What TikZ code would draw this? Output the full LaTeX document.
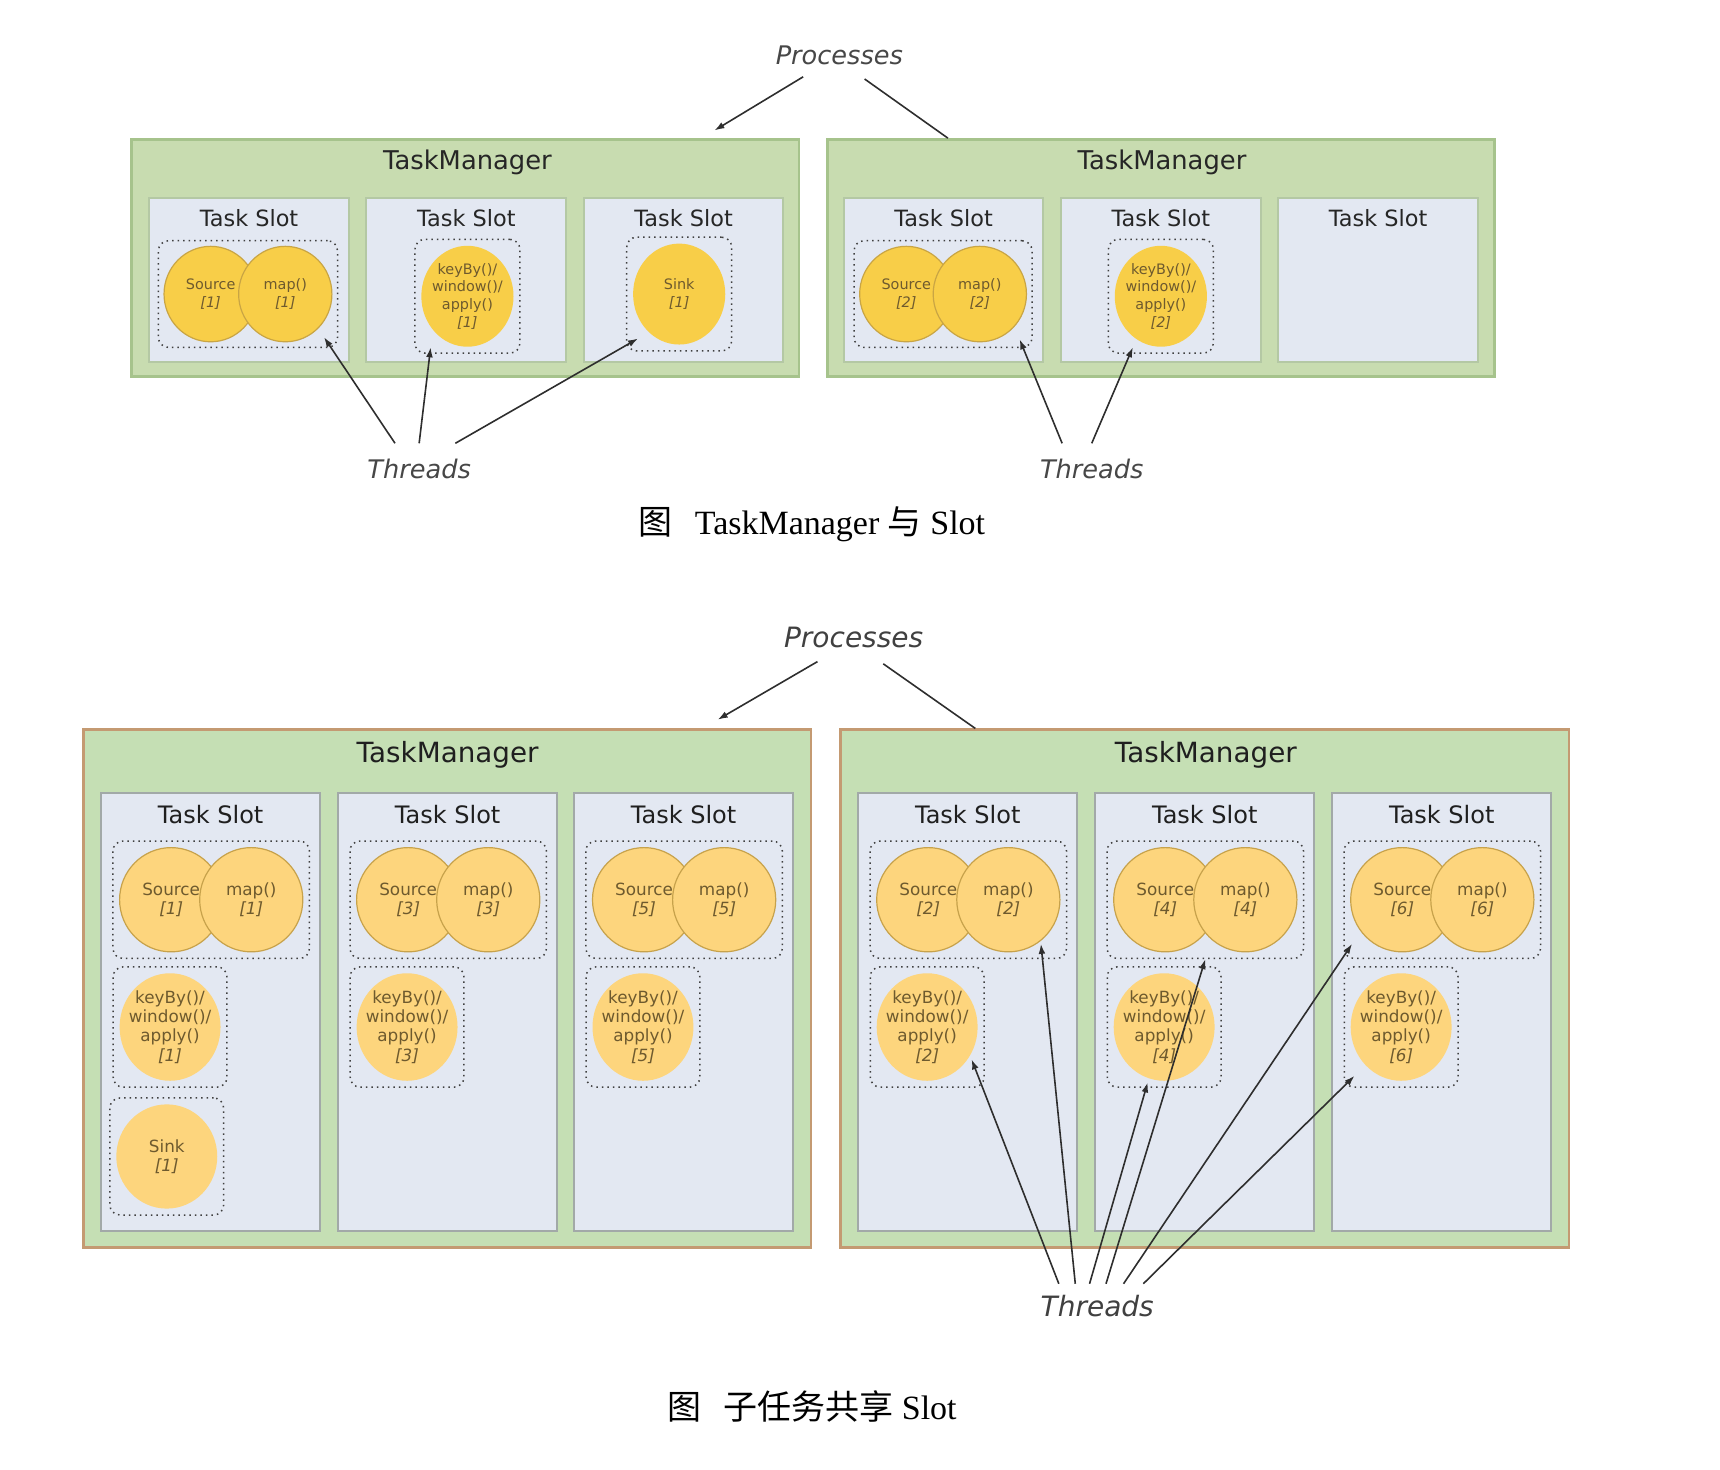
\documentclass[tikz,border=0pt]{standalone}
\usepackage{fontspec}
\setmainfont{Liberation Serif}
\newfontfamily\vfont{DejaVu Sans}
\newfontfamily\cjk{Noto Sans CJK SC}
\usetikzlibrary{shapes.geometric,arrows.meta,fit}
\newcommand{\upx}{0.5486pt}
\definecolor{tmfillB}{HTML}{C5DFB4}
\definecolor{tmlineB}{HTML}{C49A72}
\definecolor{tmfillT}{HTML}{C8DCB0}
\definecolor{tmlineT}{HTML}{A6C38C}
\definecolor{slotfill}{HTML}{E3E8F2}
\definecolor{slotlineB}{HTML}{A2A9A8}
\definecolor{slotlineT}{HTML}{B4C8A4}
\definecolor{opfill}{HTML}{FDD57D}
\definecolor{oplineB}{HTML}{C7A24B}
\definecolor{opfillT}{HTML}{F8CE48}
\definecolor{oplineT}{HTML}{C9A544}
\definecolor{optext}{HTML}{6E5A2E}

\begin{document}
\begin{tikzpicture}[x=0.5486pt, y=-0.5486pt,
    tmbox/.style={draw=tmlineB, fill=tmfillB, line width=1.2pt, inner sep=0pt},
    slotbox/.style={draw=slotlineB, fill=slotfill, line width=1pt},
    dotbox/.style={draw=black!75, dotted, line width=0.75pt, rounded corners=5pt, inner sep=3pt},
    op/.style={ellipse, fill=opfill, text=optext, inner sep=-8pt, align=center,
        font=\vfont\fontsize{8.4pt}{9.6pt}\selectfont},
    opsrc/.style={op, draw=oplineB, line width=0.6pt, minimum width=94*\upx, minimum height=95*\upx},
    opkey/.style={op, minimum width=92*\upx, minimum height=98*\upx},
    uop/.style={op, fill=opfillT, font=\vfont\fontsize{7.2pt}{8.8pt}\selectfont},
    uopsrc/.style={uop, draw=oplineT, line width=0.6pt, minimum width=85*\upx, minimum height=87*\upx},
    uopkey/.style={uop, minimum width=84*\upx, minimum height=92*\upx},
    bigtext/.style={font=\vfont\fontsize{13.9pt}{16pt}\selectfont, text=black!88},
    slottext/.style={font=\vfont\fontsize{12pt}{14pt}\selectfont, text=black!88},
    ubigtext/.style={font=\vfont\fontsize{12.9pt}{15pt}\selectfont, text=black!85},
    uslottext/.style={font=\vfont\fontsize{11.2pt}{13pt}\selectfont, text=black!85},
    note/.style={font=\vfont\itshape\fontsize{14pt}{16pt}\selectfont, text=black!75},
    unote/.style={font=\vfont\itshape\fontsize{12.8pt}{15pt}\selectfont, text=black!72},
    thread/.style={draw=black!82, line width=0.8pt, -{Latex[length=5pt,width=3.4pt]}},
    plainline/.style={draw=black!82, line width=0.8pt},
    caption/.style={font=\fontsize{17pt}{20pt}\selectfont}
]
\useasboundingbox (0,0) rectangle (1567.6,1339.6);

% ---- 上图: TaskManager 与 Slot ----
\node[tmbox, draw=tmlineT, fill=tmfillT, minimum width=608*\upx, minimum height=216*\upx] (utmL) at (424,235) {};
\node[tmbox, draw=tmlineT, fill=tmfillT, minimum width=608*\upx, minimum height=216*\upx] (utmR) at (1058,235) {};
\node[ubigtext] (utmLt) at (426,148) {TaskManager};
\node[ubigtext] (utmRt) at (1059,148) {TaskManager};
\foreach \sx [count=\j] in {136,334,532,769,967,1165} {
    \draw[slotbox, draw=slotlineT] (\sx,180) rectangle ++(182,150);
    \node[uslottext] (uslot\j) at (\sx+91,199) {Task Slot};
}

% 左边的 TaskManager
\node[uopsrc] (us1) at (192,268) {Source\\\textit{[1]}};
\node[uopsrc] (um1) at (260,268) {map()\\\textit{[1]}};
\node[dotbox, fit=(us1)(um1), inner sep=2.5pt] (ua1) {};
\node[uopkey] (uk1) at (426,270) {keyBy()/\\window()/\\apply()\\\textit{[1]}};
\node[dotbox, fit=(uk1)] (ub1) {};
\node[uopkey] (ux1) at (619,268) {Sink\\\textit{[1]}};
\node[dotbox, fit=(ux1)] (uc1) {};

% 右边的 TaskManager
\node[uopsrc] (us2) at (826,268) {Source\\\textit{[2]}};
\node[uopsrc] (um2) at (893,268) {map()\\\textit{[2]}};
\node[dotbox, fit=(us2)(um2), inner sep=2.5pt] (ua2) {};
\node[uopkey] (uk2) at (1058,270) {keyBy()/\\window()/\\apply()\\\textit{[2]}};
\node[dotbox, fit=(uk2)] (ub2) {};

% Processes 和 Threads
\node[unote] (uproc) at (765,50) {Processes};
\coordinate (up1) at (732,70);
\coordinate (up2) at (788,72);
\draw[thread] (up1) -- ([shift={(-78,-7)}]utmL.north east);
\draw[plainline] (up2) -- ([shift={(111,0)}]utmR.north west);

\node[unote] (uthrL) at (382,427) {Threads};
\coordinate (ut1) at (360,404);
\coordinate (ut2) at (382,404);
\coordinate (ut3) at (415,404);
\draw[thread] (ut1) -- ([shift={(-13,-10)}]ua1.south east);
\draw[thread] (ut2) -- ([shift={(15,-6)}]ub1.south west);
\draw[thread] (ut3) -- ([shift={(11,-12)}]uc1.south west);

\node[unote] (uthrR) at (995,427) {Threads};
\coordinate (ut4) at (968,404);
\coordinate (ut5) at (995,404);
\draw[thread] (ut4) -- ([shift={(-12,-8)}]ua2.south east);
\draw[thread] (ut5) -- ([shift={(23,-6)}]ub2.south west);

\node[caption] (cap1) at (740,478) {{\cjk 图}\hspace{0.65em}TaskManager {\cjk 与} Slot};

% ---- 下图: 子任务共享 Slot ----
\node[tmbox, minimum width=663*\upx, minimum height=472*\upx] (tmL) at (407.5,901) {};
\node[tmbox, minimum width=664*\upx, minimum height=472*\upx] (tmR) at (1098,901) {};
\node[bigtext] (tmLt) at (408,688) {TaskManager};
\node[bigtext] (tmRt) at (1099,688) {TaskManager};

\foreach \sx/\i in {92/1,308/3,523/5,782/2,998/4,1214/6} {
    \draw[slotbox] (\sx,723) rectangle ++(200,399);
    \node[slottext] (slot\i) at (\sx+100,742) {Task Slot};
    \node[opsrc] (s\i) at (\sx+64,820) {Source\\\textit{[\i]}};
    \node[opsrc] (m\i) at (\sx+137,820) {map()\\\textit{[\i]}};
    \node[dotbox, fit=(s\i)(m\i)] (a\i) {};
    \node[opkey] (k\i) at (\sx+63,936) {keyBy()/\\window()/\\apply()\\\textit{[\i]}};
    \node[dotbox, fit=(k\i)] (b\i) {};
}
\node[opkey, minimum height=95*\upx] (x1) at (152,1054) {Sink\\\textit{[1]}};
\node[dotbox, fit=(x1)] (c1) {};

% Processes
\node[note] (proc) at (778,581) {Processes};
\coordinate (p1) at (745,603);
\coordinate (p2) at (805,605);
\draw[thread] (p1) -- ([shift={(-86,-8)}]tmL.north east);
\draw[plainline] (p2) -- ([shift={(124,0)}]tmR.north west);

% Threads
\node[note] (thr) at (1000,1190) {Threads};
\coordinate (t1) at (965,1170);
\coordinate (t2) at (980,1170);
\coordinate (t3) at (993,1170);
\coordinate (t4) at (1008,1170);
\coordinate (t5) at (1024,1170);
\coordinate (t6) at (1042,1170);
\draw[thread] (t1) -- ([shift={(-12,-26)}]b2.south east);
\draw[thread] (t2) -- ([shift={(-24,-14)}]a2.south east);
\draw[thread] (t3) -- ([shift={(-15,-5)}]b4.south);
\draw[thread] (t4) -- (a4.south);
\draw[thread] (t5) -- ([shift={(8,-14)}]a6.south west);
\draw[thread] (t6) -- ([shift={(10,-11)}]b6.south west);

\node[caption] (cap2) at (740,1282) {{\cjk 图}\hspace{0.65em}{\cjk 子任务共享} Slot};
\end{tikzpicture}
\end{document}
